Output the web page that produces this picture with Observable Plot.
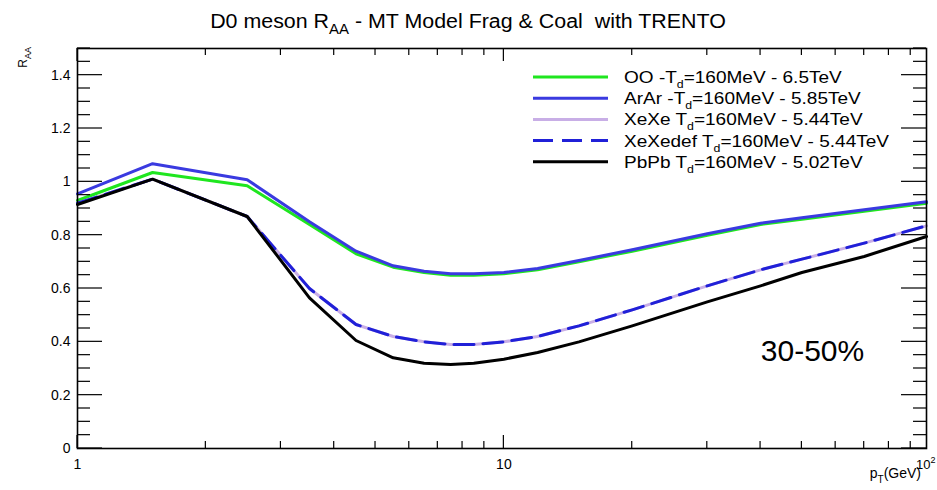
<!DOCTYPE html>
<html><head><meta charset="utf-8">
<script src="https://cdn.jsdelivr.net/npm/d3@7"></script>
<script src="https://cdn.jsdelivr.net/npm/@observablehq/plot@0.6"></script>
<style>
body{margin:0;background:#fff;}
#chart{position:relative;width:937px;height:490px;}
svg{font-family:"Liberation Sans",Arial,Helvetica,sans-serif;}
</style></head><body><div id="chart"></div>
<script>
// ---- data ----
const pT = [1, 1.5, 2.5, 3.5, 4.5, 5.5, 6.5, 7.5, 8.5, 10, 12, 15, 20, 30, 40, 50, 70, 98];
const raaOO      = [0.93, 1.035, 0.985, 0.84, 0.73, 0.68, 0.66, 0.65, 0.65, 0.655, 0.67, 0.70, 0.74, 0.80, 0.84, 0.86, 0.89, 0.92];
const raaArAr    = [0.955, 1.068, 1.008, 0.85, 0.74, 0.685, 0.665, 0.655, 0.655, 0.66, 0.675, 0.705, 0.745, 0.805, 0.845, 0.865, 0.895, 0.925];
const raaXeXe    = [0.92, 1.01, 0.87, 0.60, 0.465, 0.42, 0.40, 0.39, 0.39, 0.40, 0.42, 0.46, 0.52, 0.61, 0.67, 0.71, 0.77, 0.835];
const raaXeXedef = [0.92, 1.01, 0.87, 0.60, 0.465, 0.42, 0.40, 0.39, 0.39, 0.40, 0.42, 0.46, 0.52, 0.61, 0.67, 0.71, 0.77, 0.835];
const raaPbPb    = [0.915, 1.01, 0.87, 0.565, 0.405, 0.34, 0.32, 0.315, 0.32, 0.335, 0.36, 0.40, 0.46, 0.55, 0.61, 0.66, 0.72, 0.795];

const seriesNames = ["OO", "ArAr", "XeXe", "XeXedef", "PbPb"];
const seriesLegendParts = [
  ["OO -T", "=160MeV - 6.5TeV"],
  ["ArAr -T", "=160MeV - 5.85TeV"],
  ["XeXe T", "=160MeV - 5.44TeV"],
  ["XeXedef T", "=160MeV - 5.44TeV"],
  ["PbPb T", "=160MeV - 5.02TeV"]
];
const seriesValues = [raaOO, raaArAr, raaXeXe, raaXeXedef, raaPbPb];
const seriesColors = ["#1fe61f", "#3a3ae0", "#c8aee6", "#2020d8", "#000000"];
const seriesDash = [null, null, null, "20,9", null];

const yMajor = [0, 0.2, 0.4, 0.6, 0.8, 1, 1.2, 1.4];
const yMinor = d3.range(0, 31).map(i => i * 0.05).filter(v => Math.abs(v / 0.2 - Math.round(v / 0.2)) > 1e-6);
const xMajor = [1, 10];
const xMinor = [2, 3, 4, 5, 6, 7, 8, 9, 20, 30, 40, 50, 60, 70, 80, 90];
const xDomain = [1, 98];
const yDomain = [0, 1.5];
const centrality = "30-50%";

// ---- layout ----
const W = 937, H = 490;
const mL = 77, mR = 11, mT = 48, mB = 42;

const table = seriesNames.flatMap((n, k) => pT.map((x, i) => ({name: n, x, y: seriesValues[k][i]})));

const lineMarks = seriesNames.map((n, k) =>
  Plot.line(table.filter(d => d.name === n), {
    x: "x", y: "y", stroke: seriesColors[k], strokeWidth: 3,
    strokeDasharray: seriesDash[k] || undefined, curve: "linear"
  })
);

const plot = Plot.plot({
  width: W, height: H,
  marginLeft: mL, marginRight: mR, marginTop: mT, marginBottom: mB,
  style: {fontFamily: "'Liberation Sans',Arial,Helvetica,sans-serif", fontSize: "14px", color: "#000", background: "#fff"},
  x: {type: "log", domain: xDomain},
  y: {domain: yDomain},
  marks: [
    ...lineMarks,
    Plot.axisY({ticks: yMajor, tickSize: 0, tickPadding: 7, label: null, fontSize: 14, tickFormat: d => String(d)}),
    Plot.axisX({ticks: xMajor, tickSize: 0, tickPadding: 11, label: null, fontSize: 14, tickFormat: d => String(d)}),
    Plot.frame({stroke: "#000", strokeWidth: 1.6}),
    Plot.text([centrality], {frameAnchor: "bottom-right", dx: -114, dy: -88, fontSize: 30, textAnchor: "middle", text: d => d})
  ]
});
document.getElementById("chart").appendChild(plot);

const svg = d3.select(plot);
const xs = plot.scale("x"), ys = plot.scale("y");

// ---- ROOT-style inward ticks, placed with the plot's scales ----
const tickG = svg.append("g").attr("stroke", "#000").attr("stroke-width", 1.2);
function seg(x1, y1, x2, y2) { tickG.append("line").attr("x1", x1).attr("y1", y1).attr("x2", x2).attr("y2", y2); }
const fLeft = mL, fRight = W - mR, fTop = mT, fBottom = H - mB;
yMajor.forEach(v => { const y = ys.apply(v); seg(fLeft, y, fLeft + 25, y); seg(fRight, y, fRight - 25, y); });
yMinor.forEach(v => { const y = ys.apply(v); seg(fLeft, y, fLeft + 13, y); seg(fRight, y, fRight - 13, y); });
xMajor.forEach(v => { const x = xs.apply(v); seg(x, fBottom, x, fBottom - 13); seg(x, fTop, x, fTop + 13); });
xMinor.forEach(v => { const x = xs.apply(v); seg(x, fBottom, x, fBottom - 7); seg(x, fTop, x, fTop + 7); });

// ---- texts with sub/superscripts ----
function richText(x, y, parts, opts = {}) {
  const t = svg.append("text")
    .attr("font-size", opts.size || 14).attr("fill", "#000")
    .attr("text-anchor", opts.anchor || "start")
    .attr("transform", `translate(${x},${y})` + (opts.rotate ? ` rotate(${opts.rotate})` : "") + (opts.sx ? ` scale(${opts.sx},1)` : ""))
    .style("white-space", "pre");
  let shift = 0;
  parts.forEach(p => {
    const ts = t.append("tspan").text(p.t);
    const target = p.sub ? (opts.subDy || 5) : p.sup ? -(opts.supDy || 6) : 0;
    if (target !== shift) { ts.attr("dy", target - shift); shift = target; }
    if (p.sub || p.sup) ts.attr("font-size", opts.subSize || Math.round((opts.size || 14) * 0.7));
  });
  return t;
}

// Title
richText(468, 28, [{t: "D0 meson R"}, {t: "AA", sub: true}, {t: " - MT Model Frag & Coal  with TRENTO"}],
  {size: 20, anchor: "middle", subSize: 14, subDy: 6, sx: 1.07});

// Y axis title (rotated)
richText(27, 47, [{t: "R"}, {t: "AA", sub: true}], {size: 12, anchor: "end", subSize: 9, subDy: 4, rotate: -90});

// X axis title and 10^2 label
richText(921, 478, [{t: "p"}, {t: "T", sub: true}, {t: "(GeV)"}], {size: 14, anchor: "end", subSize: 10, subDy: 5});
richText(916, 469, [{t: "10"}, {t: "2", sup: true}], {size: 13, anchor: "start", subSize: 9, supDy: 6});

// Legend
const legX1 = 533, legX2 = 608, legTextX = 624, legY0 = 77, legDy = 21.2;
seriesNames.forEach((n, k) => {
  const y = legY0 + k * legDy;
  svg.append("line").attr("x1", legX1).attr("x2", legX2).attr("y1", y).attr("y2", y)
    .attr("stroke", seriesColors[k]).attr("stroke-width", 3)
    .attr("stroke-dasharray", seriesDash[k]);
  const [a, b] = seriesLegendParts[k];
  richText(legTextX, y + 6, [{t: a}, {t: "d", sub: true}, {t: b}], {size: 17, subSize: 11, subDy: 5, sx: 1.12});
});
</script></body></html>
